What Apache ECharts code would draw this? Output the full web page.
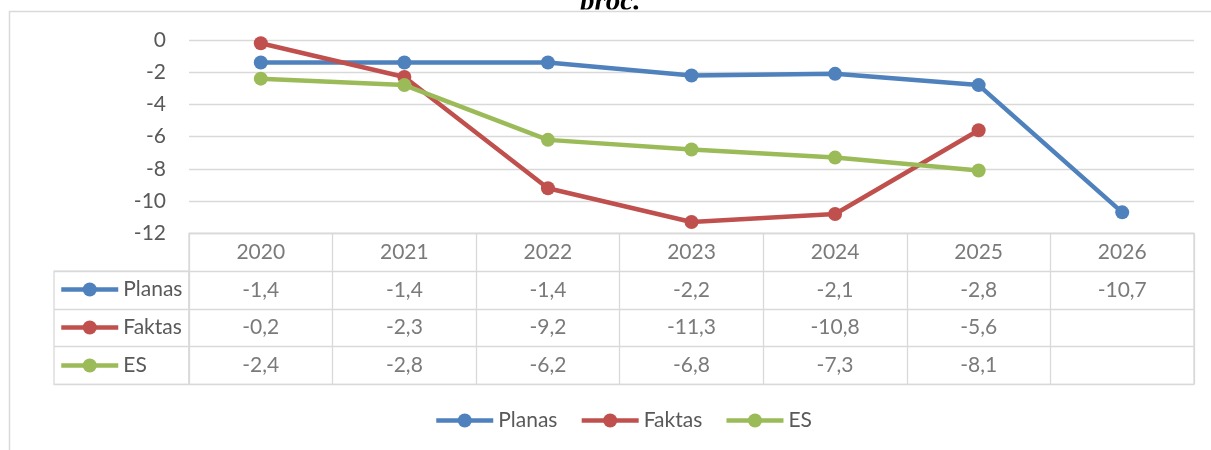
<!DOCTYPE html>
<html>
<head>
<meta charset="utf-8">
<script src="https://cdn.jsdelivr.net/npm/echarts@6/dist/echarts.min.js"></script>
<style>
  html, body { margin: 0; padding: 0; background: #fff; }
  #chartmain1 { width: 1211px; height: 450px; }
</style>
</head>
<body>
<div id="chartmain1"></div>
<script>
// duomenys
var years = ['2020', '2021', '2022', '2023', '2024', '2025', '2026'];
var planas = [-1.4, -1.4, -1.4, -2.2, -2.1, -2.8, -10.7];
var faktas = [-0.2, -2.3, -9.2, -11.3, -10.8, -5.6, null];
var es = [-2.4, -2.8, -6.2, -6.8, -7.3, -8.1, null];
var rows = ['hdr', 'Planas', 'Faktas', 'ES'];
var colors = ['#4F81BD', '#C0504D', '#9BBB59'];

var FONT = 'Lato';
var FS = 21;
var TXT = '#595959';
var GRID = '#d9d9d9';

function fmt(v) { return String(v).replace('.', ','); }

// lenteles langeliai
var cells = [];
years.forEach(function (y, i) { cells.push([y, 'hdr', y]); });
[['Planas', planas], ['Faktas', faktas], ['ES', es]].forEach(function (r) {
    r[1].forEach(function (v, i) {
        if (v !== null) cells.push([years[i], r[0], fmt(v)]);
    });
});

function lineSeries(name, data, idx) {
    return {
        name: name,
        type: 'line',
        data: data,
        xAxisIndex: 0,
        yAxisIndex: 0,
        symbol: 'circle',
        symbolSize: 14,
        lineStyle: { width: 4.5, color: colors[idx] },
        itemStyle: { color: colors[idx] },
        connectNulls: false
    };
}

function rowLegend(name, top) {
    return {
        data: [name],
        left: 59,
        top: top,
        padding: 0,
        itemWidth: 57,
        itemHeight: 17.5,
        selectedMode: false,
        textStyle: { fontFamily: FONT, fontSize: FS, color: TXT },
        lineStyle: { width: 4.5 }
    };
}

var myChart = echarts.init(document.getElementById('chartmain1'));
var option = {
    animation: false,
    color: colors,
    textStyle: { fontFamily: FONT },
    grid: [
        { left: 189, width: 1005, top: 40, height: 193.3 },
        { left: 189, width: 1005, top: 233.3, height: 151, show: true, borderColor: GRID, borderWidth: 1.3 },
        { left: 54, width: 135, top: 271.05, height: 113.25, show: true, borderColor: GRID, borderWidth: 1.3 }
    ],
    xAxis: [
        { type: 'category', gridIndex: 0, data: years, boundaryGap: true,
          axisLine: { show: false }, axisTick: { show: false }, axisLabel: { show: false } },
        { type: 'category', gridIndex: 1, data: years, boundaryGap: true,
          axisLine: { show: false }, axisTick: { show: false }, axisLabel: { show: false },
          splitLine: { show: true, lineStyle: { color: GRID, width: 1.3 } } },
        { type: 'category', gridIndex: 2, data: ['x'], show: false }
    ],
    yAxis: [
        { type: 'value', gridIndex: 0, min: -12, max: 0, interval: 2,
          axisLine: { show: false }, axisTick: { show: false },
          axisLabel: { fontFamily: FONT, fontSize: FS, color: TXT, margin: 23 },
          splitLine: { lineStyle: { color: GRID, width: 1.3 } } },
        { type: 'category', gridIndex: 1, data: rows, inverse: true,
          axisLine: { show: false }, axisTick: { show: false }, axisLabel: { show: false },
          splitLine: { show: true, lineStyle: { color: GRID, width: 1.3 } } },
        { type: 'category', gridIndex: 2, data: rows.slice(1), inverse: true,
          axisLine: { show: false }, axisTick: { show: false }, axisLabel: { show: false },
          splitLine: { show: true, lineStyle: { color: GRID, width: 1.3 } } }
    ],
    legend: [
        {
            data: ['Planas', 'Faktas', 'ES'],
            left: 434,
            top: 410,
            padding: 0,
            itemGap: 22,
            itemWidth: 57,
            itemHeight: 17.5,
            selectedMode: false,
            textStyle: { fontFamily: FONT, fontSize: FS, color: TXT },
            lineStyle: { width: 4.5 }
        },
        rowLegend('Planas', 279),
        rowLegend('Faktas', 317),
        rowLegend('ES', 355)
    ],
    graphic: [
        { type: 'text', left: 580, top: -12, z: 1,
          style: { text: 'proc.', font: 'italic bold 29px "Liberation Serif"', fill: '#000' } },
        { type: 'rect', z: 2, shape: { x: 540, y: 9.5, width: 140, height: 25 },
          style: { fill: '#fff' } },
        { type: 'rect', z: 3, shape: { x: 9.5, y: 11.5, width: 1300, height: 500 },
          style: { fill: 'none', stroke: GRID, lineWidth: 1.5 } }
    ],
    series: [
        lineSeries('Planas', planas, 0),
        lineSeries('Faktas', faktas, 1),
        lineSeries('ES', es, 2),
        {
            type: 'scatter',
            xAxisIndex: 1,
            yAxisIndex: 1,
            data: cells,
            symbolSize: 1,
            itemStyle: { color: 'rgba(0,0,0,0)' },
            silent: true,
            label: {
                show: true,
                position: 'inside',
                formatter: function (p) { return p.value[2]; },
                fontFamily: FONT,
                fontSize: FS,
                color: TXT
            }
        }
    ]
};
myChart.setOption(option);
</script>
</body>
</html>
